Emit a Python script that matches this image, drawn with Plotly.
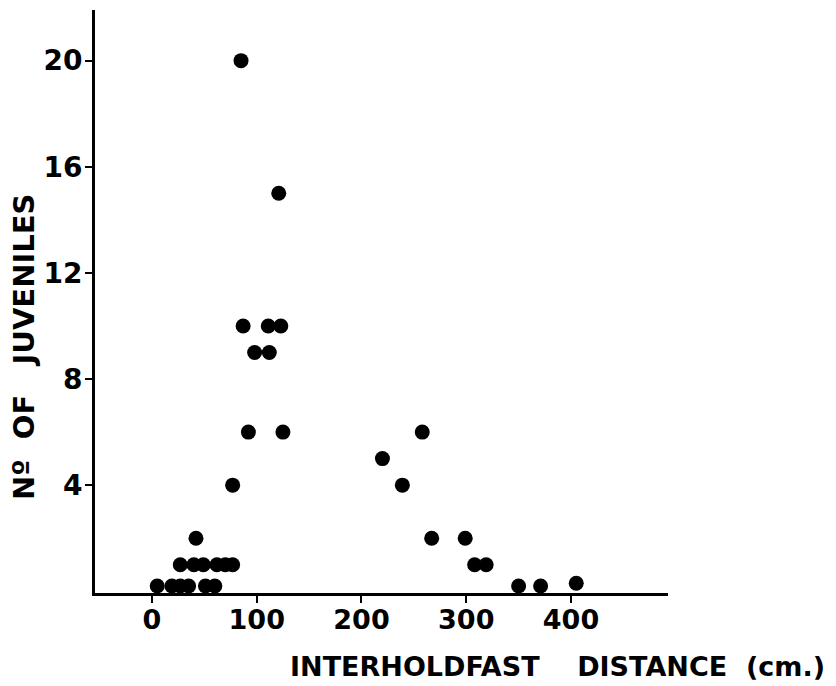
import plotly.graph_objects as go

# Interholdfast distance (cm) and number of juveniles
distance = [85, 121, 87, 111, 123, 98, 112, 92, 125, 77, 42,
            27, 40, 49, 62, 70, 77,
            5, 19, 27, 35, 51, 60,
            258, 220, 239, 267, 299, 308, 319, 350, 371, 405]
juveniles = [20, 15, 10, 10, 10, 9, 9, 6, 6, 4, 2,
             1, 1, 1, 1, 1, 1,
             0.2, 0.2, 0.2, 0.2, 0.2, 0.2,
             6, 5, 4, 2, 2, 1, 1, 0.2, 0.2, 0.3]

x_ticks = [0, 100, 200, 300, 400]
y_ticks = [4, 8, 12, 16, 20]

FONT = "DejaVu Sans, sans-serif"

# page body has an 8px margin: size the figure so it fits the 836x686 window
OFF = 8
FIG_W, FIG_H = 836 - OFF, 686 - OFF
L, T = 95 - OFF, 10 - OFF
R_EDGE, B_EDGE = 668 - OFF, 593 - OFF
W, H = R_EDGE - L, B_EDGE - T


def px(wx):
    return (wx - OFF - L) / W


def py(wy):
    return 1 - (wy - OFF - T) / H


fig = go.Figure()
fig.add_trace(go.Scatter(
    x=distance, y=juveniles, mode="markers",
    marker=dict(size=15, color="black", line=dict(width=0)),
    hoverinfo="x+y", showlegend=False,
))

fig.update_layout(
    template="none",
    width=FIG_W, height=FIG_H,
    margin=dict(l=L, r=FIG_W - R_EDGE, t=T, b=FIG_H - B_EDGE, autoexpand=False),
    paper_bgcolor="white", plot_bgcolor="white",
    font=dict(family=FONT, color="black"),
    xaxis=dict(
        range=[-54.4, 492.6], tickvals=x_ticks, ticktext=[str(v) for v in x_ticks],
        showline=True, linecolor="black", linewidth=3, mirror=False,
        ticks="outside", ticklen=7, tickwidth=2, tickcolor="black",
        showgrid=False, zeroline=False, automargin=False,
        ticklabelstandoff=-6,
        tickfont=dict(family=FONT, size=27, color="black", weight="bold"),
    ),
    yaxis=dict(
        range=[-0.066, 21.91], tickvals=y_ticks, ticktext=[str(v) for v in y_ticks],
        showline=True, linecolor="black", linewidth=3, mirror=False,
        ticks="outside", ticklen=7, tickwidth=2, tickcolor="black",
        showgrid=False, zeroline=False, automargin=False,
        ticklabelstandoff=-3,
        tickfont=dict(family=FONT, size=28, color="black", weight="bold"),
    ),
    annotations=[
        dict(text="INTERHOLDFAST\u00a0\u00a0\u00a0\u00a0DISTANCE\u00a0\u00a0(cm.)",
             xref="paper", yref="paper", x=px(288), y=py(666),
             xanchor="left", yanchor="middle", showarrow=False,
             font=dict(family=FONT, size=27, color="black", weight="bold")),
        dict(text="Nº\u00a0\u00a0OF\u00a0\u00a0\u00a0JUVENILES",
             xref="paper", yref="paper", x=px(24), y=py(502),
             xanchor="center", yanchor="bottom", showarrow=False, textangle=-90,
             font=dict(family=FONT, size=29, color="black", weight="bold")),
    ],
)

fig.write_html("out.html")
